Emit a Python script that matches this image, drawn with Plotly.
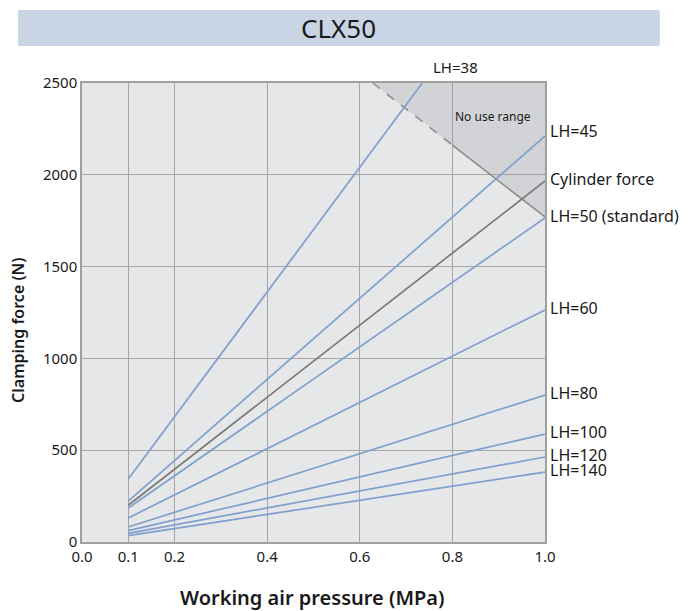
import plotly.graph_objects as go

# ---- data ----
pressure_start = 0.1
pressure_end = 1.0
series_names = ["LH=38", "LH=45", "Cylinder force", "LH=50 (standard)", "LH=60",
                "LH=80", "LH=100", "LH=120", "LH=140"]
force_at_start = [343, 223, 200, 185, 131, 82, 62, 47, 35]
force_at_end = [2500, 2211, 1966, 1765, 1264, 800, 588, 463, 381]
end_pressure = [0.735, 1.0, 1.0, 1.0, 1.0, 1.0, 1.0, 1.0, 1.0]

no_use_x = [0.628, 1.0, 1.0]
no_use_y = [2500, 2500, 1770]
boundary_dash_x = [0.628, 0.8]
boundary_dash_y = [2500, 2162]
boundary_solid_x = [0.8, 1.0]
boundary_solid_y = [2162, 1770]

x_ticks = [0.0, 0.1, 0.2, 0.4, 0.6, 0.8, 1.0]
x_tick_text = ["0.0", "0.1", "0.2", "0.4", "0.6", "0.8", "1.0"]
y_ticks = [0, 500, 1000, 1500, 2000, 2500]

BLUE = "#7f9fcc"
GREY_LINE = "#7a7a7a"
FONT = "Noto Sans"
TXT = "#1a1a1a"

fig = go.Figure()

fig.add_trace(go.Scatter(x=no_use_x, y=no_use_y, fill="toself", mode="none",
                         fillcolor="rgba(140,140,145,0.22)", hoverinfo="skip", showlegend=False))
fig.add_trace(go.Scatter(x=boundary_dash_x, y=boundary_dash_y, mode="lines",
                         line=dict(color="#8a8a8a", width=1.5, dash="dash"), showlegend=False))
fig.add_trace(go.Scatter(x=boundary_solid_x, y=boundary_solid_y, mode="lines",
                         line=dict(color="#8a8a8a", width=1.5), showlegend=False))

for name, y0, y1, xe in zip(series_names, force_at_start, force_at_end, end_pressure):
    color = GREY_LINE if name == "Cylinder force" else BLUE
    fig.add_trace(go.Scatter(x=[pressure_start, xe], y=[y0, y1], mode="lines",
                             line=dict(color=color, width=1.7), name=name, showlegend=False))

annotations = []
label_shift = {"LH=45": 5}
for name, y1, xe in zip(series_names, force_at_end, end_pressure):
    if name == "LH=38":
        annotations.append(dict(x=0.806, y=1.035, xref="x", yref="paper", text=name,
                                showarrow=False, font=dict(family=FONT, size=15, color=TXT),
                                xanchor="center", yanchor="middle"))
        continue
    annotations.append(dict(x=xe, y=y1, xref="x", yref="y", text=name, showarrow=False,
                            xanchor="left", yanchor="middle", xshift=3,
                            yshift=label_shift.get(name, 2),
                            font=dict(family=FONT, size=16, color=TXT)))

annotations.append(dict(x=0.888, y=2315, xref="x", yref="y", text="No use range",
                        showarrow=False, font=dict(family=FONT, size=12, color=TXT)))
annotations.append(dict(x=0.553, y=1.1195, xref="paper", yref="paper", text="CLX50",
                        showarrow=False, font=dict(family=FONT, size=26, color=TXT, weight=400),
                        xanchor="center", yanchor="middle"))
annotations.append(dict(x=0.497, y=-0.12, xref="paper", yref="paper",
                        text="Working air pressure (MPa)", showarrow=False,
                        font=dict(family=FONT, size=20, color=TXT, weight=600),
                        xanchor="center", yanchor="middle"))
annotations.append(dict(x=-0.138, y=0.46, xref="paper", yref="paper",
                        text="Clamping force (N)", showarrow=False, textangle=-90,
                        font=dict(family=FONT, size=16, color=TXT, weight=600),
                        xanchor="center", yanchor="middle"))

fig.update_layout(
    width=682, height=603,
    margin=dict(l=74, r=145, t=75, b=69),
    paper_bgcolor="white",
    plot_bgcolor="#e6e7e9",
    font=dict(family=FONT, size=14, color=TXT),
    annotations=annotations,
    shapes=[dict(type="rect", xref="paper", yref="paper", x0=-0.138, x1=1.248,
                 y0=1.0806, y1=1.159, fillcolor="#c9d5e4", line=dict(width=0), layer="below")],
    xaxis=dict(range=[0, 1.0], tickvals=x_ticks, ticktext=x_tick_text,
               showgrid=True, gridcolor="#a6a6a6", gridwidth=1.3,
               showline=True, linecolor="#a0a0a0", linewidth=1.5, mirror=True,
               zeroline=False, ticks="", tickfont=dict(size=15)),
    yaxis=dict(range=[0, 2500], tickvals=y_ticks,
               showgrid=True, gridcolor="#a6a6a6", gridwidth=1.3,
               showline=True, linecolor="#a0a0a0", linewidth=1.5, mirror=True,
               zeroline=False, ticks="", tickfont=dict(size=15)),
)

fig.write_html("out.html")
